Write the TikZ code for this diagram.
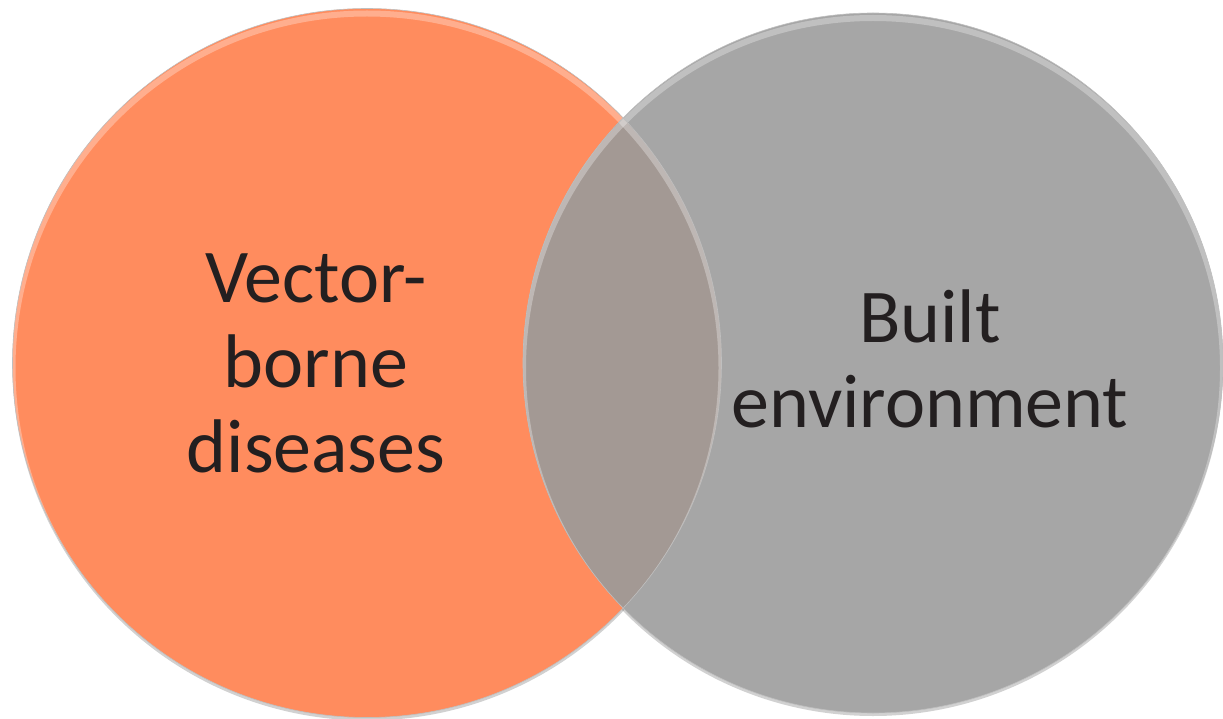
\documentclass[tikz,border=0pt]{standalone}
\usepackage{fontspec}
\setmainfont{Carlito}
\definecolor{orangefill}{HTML}{FF8C5E}
\definecolor{grayfill}{HTML}{A6A6A6}
\definecolor{overlapfill}{HTML}{A39994}
\definecolor{textdark}{HTML}{231F20}
\tikzset{
  label text/.style={font=\fontsize{76}{85}\selectfont, text=textdark, align=center, inner sep=0pt},
  rim/.style={draw=black!25, line width=0.6pt}
}
\begin{document}
\begin{tikzpicture}[x=1pt,y=-1pt]
\useasboundingbox (0,0) rectangle (1223,719);
% shadows
\fill[black, opacity=0.18] (367,366) circle (354.5);
\fill[black, opacity=0.18] (873,366) circle (350);
% circles
\fill[orangefill] (367,363) circle (354.5);
\fill[grayfill] (873,363) circle (350);
\begin{scope}
  \clip (367,363) circle (354.5);
  \fill[overlapfill] (873,363) circle (350);
\end{scope}
% highlights
\begin{scope}
  \clip (367,363) circle (354.5);
  \draw[white, opacity=0.3, line width=6pt] (367,368) circle (354.5);
\end{scope}
\begin{scope}
  \clip (873,363) circle (350);
  \draw[white, opacity=0.3, line width=6pt] (873,368) circle (350);
\end{scope}
\draw[rim] (367,363) circle (354.5);
\draw[rim] (873,363) circle (350);
% texts (base anchor = baseline of last line)
\node[label text, anchor=base] (left) at (316,472) {Vector-\\borne\\diseases};
\node[label text, anchor=base] (right) at (930,427) {Built\\environment};
\end{tikzpicture}
\end{document}
